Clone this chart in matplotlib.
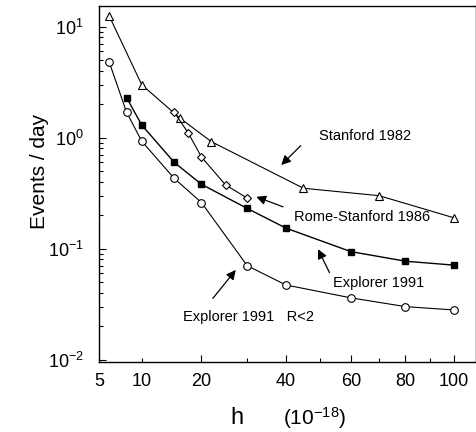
import numpy as np
import matplotlib
matplotlib.use("Agg")
import matplotlib.pyplot as plt

plt.rcParams['font.family'] = ['Liberation Sans', 'DejaVu Sans']
plt.rcParams['mathtext.fontset'] = 'custom'
plt.rcParams['mathtext.rm'] = 'Liberation Sans'
plt.rcParams['mathtext.it'] = 'Liberation Sans:italic'
plt.rcParams['mathtext.bf'] = 'Liberation Sans:bold'

# data
h_stanford = [6, 10, 16, 22, 45, 70, 100]
ev_stanford = [12.5, 3.0, 1.5, 0.92, 0.35, 0.30, 0.19]

h_rome = [15, 17.5, 20, 25, 30]
ev_rome = [1.7, 1.1, 0.67, 0.375, 0.285]

h_expl = [8, 10, 15, 20, 30, 40, 60, 80, 100]
ev_expl = [2.3, 1.3, 0.6, 0.38, 0.23, 0.153, 0.094, 0.077, 0.071]

h_r2 = [6, 8, 10, 15, 20, 30, 40, 60, 80, 100]
ev_r2 = [4.8, 1.7, 0.93, 0.43, 0.26, 0.07, 0.047, 0.036, 0.030, 0.028]

x_major = [20, 40, 60, 80, 100]
x_minor = [5, 10, 30, 50, 70, 90]
x_minor_labels = ['5', '10', '', '', '', '']
y_ticks = [1e-2, 1e-1, 1e0, 1e1]
y_labels = [r'$10^{-2}$', r'$10^{-1}$', r'$10^{0}$', r'$10^{1}$']

fig = plt.figure(figsize=(4.77, 4.32), dpi=100)
ax = fig.add_axes([0.2075, 0.162, 0.79, 0.825])

ax.set_xscale('function', functions=(lambda x: np.sqrt(np.clip(x, 0, None)), lambda x: np.square(x)))
ax.set_yscale('log')

lw = 0.8
ax.plot(h_stanford, ev_stanford, '-', color='k', lw=lw, marker='^', ms=6,
        mfc='white', mec='k', mew=0.8)
ax.plot(h_rome, ev_rome, '-', color='k', lw=lw, marker='D', ms=4,
        mfc='white', mec='k', mew=0.8)
ax.plot(h_expl, ev_expl, '-', color='k', lw=1.0, marker='s', ms=4.5,
        mfc='k', mec='k')
ax.plot(h_r2, ev_r2, '-', color='k', lw=lw, marker='o', ms=5.5,
        mfc='white', mec='k', mew=0.8)

ax.set_xlim(4.95, 110)
ax.set_ylim(0.0095, 15.5)

ax.set_xticks(x_major)
ax.set_xticklabels([str(v) for v in x_major])
ax.set_xticks(x_minor, labels=x_minor_labels, minor=True)
ax.set_yticks(y_ticks)
ax.set_yticklabels(y_labels)

ax.tick_params(axis='both', which='both', direction='in', labelsize=13, width=0.8)
ax.tick_params(axis='x', which='major', length=5, pad=8)
ax.tick_params(axis='x', which='minor', length=3, pad=8)
ax.tick_params(axis='y', which='major', length=5, pad=11)
ax.tick_params(axis='y', which='minor', length=3)
for s in ax.spines.values():
    s.set_linewidth(1.0)

ax.set_ylabel('Events / day', fontsize=15)
ax.yaxis.set_label_coords(-0.133, 0.536)

fig.text(237 / 477, 1 - 418 / 432, 'h', fontsize=17, ha='center', va='center')
fig.text(315 / 477, 1 - 418 / 432, r'(10$^{-18}$)', fontsize=15, ha='center', va='center')

arrow = dict(arrowstyle='-|>', color='k', lw=0.9, mutation_scale=14, shrinkA=0, shrinkB=0)
fs = 10.5
ax.text(64.8, 1.04, 'Stanford 1982', fontsize=fs, ha='center', va='center')
ax.annotate('', xy=(38.7, 0.567), xytext=(44.2, 0.847), arrowprops=arrow)

ax.text(42.4, 0.193, 'Rome-Stanford 1986', fontsize=fs, ha='left', va='center')
ax.annotate('', xy=(32.2, 0.293), xytext=(39.2, 0.238), arrowprops=arrow)

ax.text(54.0, 0.049, 'Explorer 1991', fontsize=fs, ha='left', va='center')
ax.annotate('', xy=(49.4, 0.0988), xytext=(53.0, 0.0607), arrowprops=arrow)

ax.text(16.5, 0.0241, 'Explorer 1991   R<2', fontsize=fs, ha='left', va='center')
ax.annotate('', xy=(27.3, 0.0642), xytext=(22.3, 0.0356), arrowprops=arrow)

fig.savefig('out.png', dpi=100)
